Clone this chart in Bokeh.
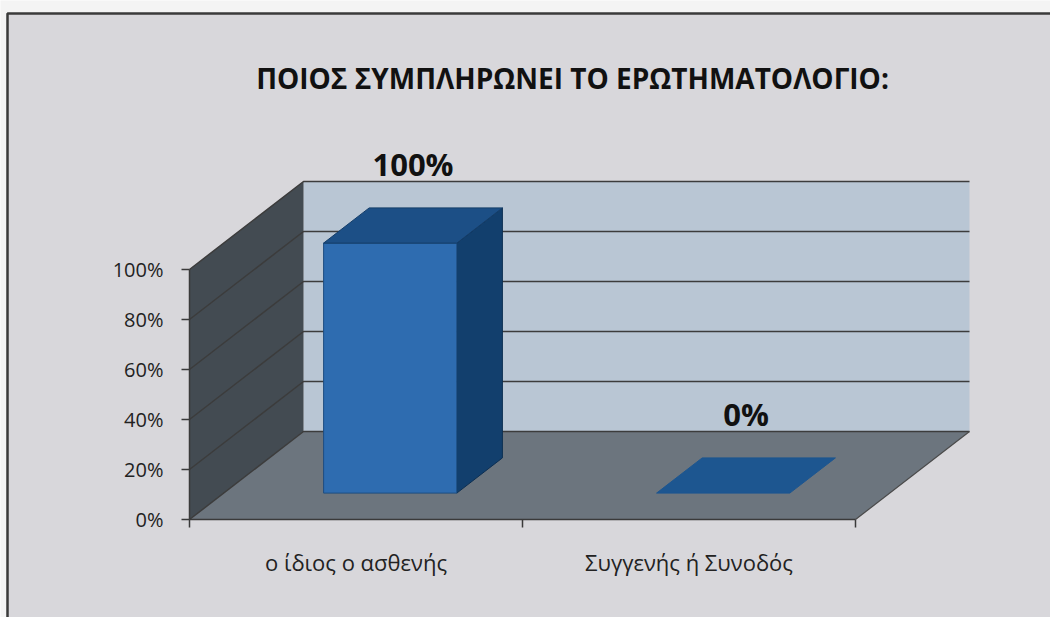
from bokeh.plotting import figure
from bokeh.models import Range1d, LinearAxis, FixedTicker
from bokeh.core.properties import value
from bokeh.embed import file_html
from bokeh.resources import INLINE

# ---------------- data ----------------
title_text = "ΠΟΙΟΣ ΣΥΜΠΛΗΡΩΝΕΙ ΤΟ ΕΡΩΤΗΜΑΤΟΛΟΓΙΟ:"
categories = ["ο ίδιος ο ασθενής", "Συγγενής ή Συνοδός"]
values = [100, 0]
data_labels = ["100%", "0%"]
y_ticks = [0, 20, 40, 60, 80, 100]
y_tick_labels = ["0%", "20%", "40%", "60%", "80%", "100%"]

# ---------------- layout constants (pixels) ----------------
W, H = 1050, 617
FRONT_X0 = 189      # px of front y axis
FLOOR_Y = 519       # px of front x axis
CAT_W = 333         # px per category
PCT = 2.5           # px per percent
DX = 114 / CAT_W    # depth shift in category units
DY = 88 / PCT       # depth shift in percent units
BAR_W = 0.40
D0, D1 = 0.3, 0.7   # bar depth span (fraction of total depth)

def px_x(px):
    return (px - FRONT_X0) / CAT_W

def px_y(py):
    return (FLOOR_Y - py) / PCT

p = figure(width=W, height=H, output_backend="svg", toolbar_location=None,
           x_range=Range1d(px_x(0), px_x(W)), y_range=Range1d(px_y(H), px_y(0)),
           x_axis_location=None, y_axis_location=None, min_border=0)
p.outline_line_color = None
p.background_fill_color = "#f4f4f4"
p.border_fill_color = "#f4f4f4"
p.xgrid.visible = False
p.ygrid.visible = False

# chart panel with border
p.quad(left=px_x(7), right=px_x(W + 20), top=px_y(13), bottom=px_y(H + 20),
       fill_color="#d8d7db", line_color="#3a3a3a", line_width=2.5)

n = len(categories)
ymax = y_ticks[-1]

# back wall
p.patch([DX, n + DX, n + DX, DX], [DY, DY, ymax + DY, ymax + DY],
        fill_color="#b9c6d4", line_color=None)
# side wall
p.patch([0, 0, DX, DX], [0, ymax, ymax + DY, DY],
        fill_color="#434b52", line_color=None)
# floor
p.patch([0, n, n + DX, DX], [0, 0, DY, DY],
        fill_color="#6c757e", line_color=None)

# gridlines on back wall and side wall
gx, gy = [], []
for t in y_ticks:
    gx.append([0, DX, n + DX])
    gy.append([t, t + DY, t + DY])
p.multi_line(gx, gy, line_color="#3c3c3c", line_width=1.5)
# floor right edge
p.line([n, n + DX], [0, DY], line_color="#4a4a4a", line_width=1.2)

# bars
front_x, front_y, top_x, top_y, side_x, side_y = [], [], [], [], [], []
flat_x, flat_y = [], []
for i, v in enumerate(values):
    c = i + 0.5
    x0 = c - BAR_W / 2 + D0 * DX
    x1 = c + BAR_W / 2 + D0 * DX
    yb = D0 * DY
    ox = (D1 - D0) * DX
    oy = (D1 - D0) * DY
    yt = v + yb
    if v > 0:
        front_x.append([x0, x1, x1, x0]); front_y.append([yb, yb, yt, yt])
        top_x.append([x0, x1, x1 + ox, x0 + ox]); top_y.append([yt, yt, yt + oy, yt + oy])
        side_x.append([x1, x1 + ox, x1 + ox, x1]); side_y.append([yb, yb + oy, yt + oy, yt])
    else:
        flat_x.append([x0, x1, x1 + ox, x0 + ox]); flat_y.append([yt, yt, yt + oy, yt + oy])

p.patches(side_x, side_y, fill_color="#123f6d", line_color="#0d2f52", line_width=1)
p.patches(front_x, front_y, fill_color="#2e6cb0", line_color="#1d4d80", line_width=1)
p.patches(top_x, top_y, fill_color="#1c4f86", line_color="#143d69", line_width=1)
p.patches(flat_x, flat_y, fill_color="#1d5690", line_color="#1d5690", line_width=1)

# data labels
lx = [i + 0.5 + 0.5 * DX for i in range(n)]
ly = [v + DY - 1.5 for v in values]
p.text(lx, ly, text=data_labels, text_align="center", text_baseline="bottom",
       text_font=value("Open Sans"), text_font_style="bold", text_font_size="31px",
       text_color="#111111")

# title
p.text([px_x(572)], [px_y(77)], text=[title_text], text_align="center",
       text_baseline="middle", text_font=value("Open Sans"), text_font_style="bold",
       text_font_size="28px", text_color="#111111")

# y axis
yax = LinearAxis(fixed_location=0, bounds=(0, ymax),
                 ticker=FixedTicker(ticks=y_ticks, minor_ticks=[]),
                 major_label_overrides={t: l for t, l in zip(y_ticks, y_tick_labels)})
yax.major_tick_out = 8
yax.major_tick_in = 0
yax.minor_tick_out = 0
yax.minor_tick_in = 0
yax.major_tick_line_color = "#3a3a3a"
yax.major_tick_line_width = 1.5
yax.axis_line_color = "#3a3a3a"
yax.axis_line_width = 1.5
yax.major_label_standoff = 18
yax.major_label_text_font = "Open Sans"
yax.major_label_text_font_size = "20px"
yax.major_label_text_color = "#222222"
p.add_layout(yax, "left")

# x axis
centers = [i + 0.5 for i in range(n)]
xax = LinearAxis(fixed_location=0, bounds=(0, n),
                 ticker=FixedTicker(ticks=centers, minor_ticks=list(range(n + 1))),
                 major_label_overrides={c: cat for c, cat in zip(centers, categories)})
xax.major_tick_out = 0
xax.major_tick_in = 0
xax.minor_tick_out = 8
xax.minor_tick_in = 0
xax.minor_tick_line_color = "#3a3a3a"
xax.minor_tick_line_width = 1.5
xax.axis_line_color = "#3a3a3a"
xax.axis_line_width = 1.5
xax.major_label_standoff = 19
xax.major_label_text_font = "Open Sans"
xax.major_label_text_font_size = "22px"
xax.major_label_text_color = "#222222"
p.add_layout(xax, "below")

open("out.html", "w").write(file_html(p, INLINE))
